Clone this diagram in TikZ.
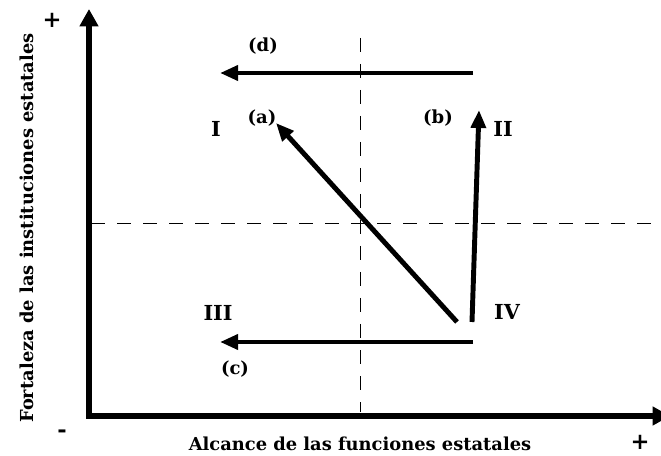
\documentclass[tikz,border=0pt]{standalone}
\usepackage{fontspec}
\setmainfont{DejaVu Serif}
\usetikzlibrary{arrows.meta}

\begin{document}
\begin{tikzpicture}[x=0.75pt, y=-0.75pt,
            axis/.style={line width=4.2pt, -{Triangle[length=13pt, width=13.5pt]}},
            arrow/.style={line width=3.7pt, -{Triangle[length=13.5pt, width=11pt]}},
            guide/.style={line width=0.6pt, dash pattern=on 10.5pt off 9pt},
            axlabel/.style={font=\bfseries\fontsize{13.4}{16}\selectfont, anchor=base},
            quad/.style={font=\bfseries\fontsize{15.5}{18}\selectfont},
            move/.style={font=\bfseries\fontsize{13.5}{16}\selectfont},
            sign/.style={font=\bfseries\fontsize{17}{19}\selectfont}
        ]
            \useasboundingbox (0,0) rectangle (661,456);
            \clip (0,0) rectangle (661,456);
            % axes
            \coordinate (O) at (89,416);
            \coordinate (ytop) at (89,9);
            \coordinate (xend) at (670,416);
            % guide lines
            \coordinate (vtop) at (360,38);
            \coordinate (vbot) at (360,412);
            \coordinate (hleft) at (91,223);
            \coordinate (hright) at (661,223);
            \draw[guide] (vtop) -- (vbot);
            \draw[guide] (hleft) -- (hright);
            \draw[axis] (O) -- (ytop);
            \draw[axis] ([xshift=-2.1pt]O) -- (xend);
            % movements
            \coordinate (d0) at (473,73);
            \coordinate (d1) at (220,73);
            \coordinate (c0) at (473,342);
            \coordinate (c1) at (220,342);
            \coordinate (a0) at (457,322);
            \coordinate (a1) at (276,123);
            \coordinate (b0) at (472,322);
            \coordinate (b1) at (479,110);
            \draw[arrow] (d0) -- (d1);
            \draw[arrow] (c0) -- (c1);
            \draw[arrow] (a0) -- (a1);
            \draw[arrow] (b0) -- (b1);
            % labels
            \node[move] (ld) at (263,46) {(d)};
            \node[move] (la) at (262,118) {(a)};
            \node[move] (lb) at (438,118) {(b)};
            \node[move] (lc) at (235,369) {(c)};
            \node[quad] (q1) at (216,129) {I};
            \node[quad] (q2) at (503,129) {II};
            \node[quad] (q3) at (218,313) {III};
            \node[quad] (q4) at (507,312) {IV};
            \node[sign] (yplus) at (52,20) {+};
            \node[sign] (xminus) at (62,434) {-};
            \node[sign] (xplus) at (640,442) {+};
            \node[axlabel] (xlab) at (360,450) {Alcance de las funciones estatales};
            \node[axlabel, rotate=90] (ylab) at (33,228) {Fortaleza de las instituciones estatales};
        \end{tikzpicture}
\end{document}
